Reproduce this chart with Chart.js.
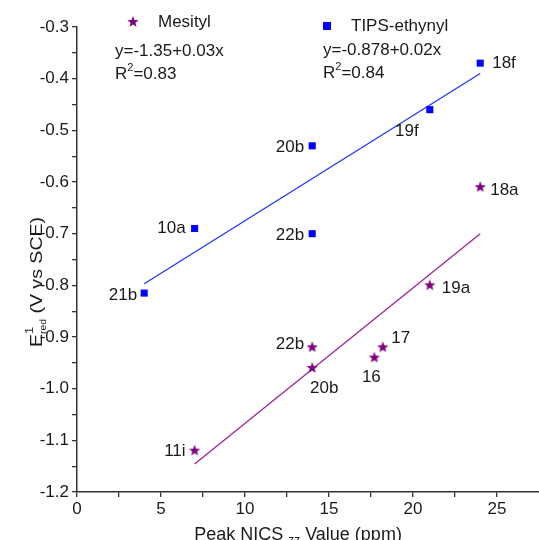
<!DOCTYPE html>
<html>
<head>
<meta charset="utf-8">
<script src="https://cdn.jsdelivr.net/npm/chart.js@4"></script>
<style>
  html, body { margin: 0; padding: 0; background: #fff; }
  #wrap { width: 539px; height: 540px; }
</style>
</head>
<body>
<div id="wrap"><canvas id="nicsChart"></canvas></div>
<script>
// TIPS-ethynyl series
const tipsNames = ['21b', '10a', '20b', '22b', '19f', '18f'];
const tipsX = [4, 7, 14, 14, 21, 24];
const tipsY = [-0.815, -0.69, -0.53, -0.70, -0.46, -0.37];

// Mesityl series
const mesNames = ['11i', '22b', '20b', '16', '17', '19a', '18a'];
const mesX = [7, 14, 14, 17.7, 18.2, 21, 24];
const mesY = [-1.12, -0.92, -0.96, -0.94, -0.92, -0.80, -0.61];

// fit lines (end points as drawn)
const tipsFitX = [4, 24];
const tipsFitY = [-0.797, -0.39];
const mesFitX = [7, 24];
const mesFitY = [-1.146, -0.70];

const xTicks = [0, 2.5, 5, 7.5, 10, 12.5, 15, 17.5, 20, 22.5, 25];
const yTicks = [-1.2, -1.15, -1.1, -1.05, -1.0, -0.95, -0.9, -0.85, -0.8, -0.75, -0.7,
                -0.65, -0.6, -0.55, -0.5, -0.45, -0.4, -0.35, -0.3];

const FONT = '"Liberation Sans", Arial, sans-serif';
const TXT = '#1a1a1a';
const PURPLE = '#800080';
const BLUE = '#0000ff';

// filled five point star for the Mesityl points
function makeStar(r, color) {
    const c = document.createElement('canvas');
    c.width = c.height = r * 2 + 2;
    const g = c.getContext('2d');
    g.fillStyle = color;
    g.beginPath();
    for (let i = 0; i < 10; i++) {
        const rad = i % 2 === 0 ? r : r * 0.42;
        const a = -Math.PI / 2 + i * Math.PI / 5;
        g.lineTo(r + 1 + rad * Math.cos(a), r + 1 + rad * Math.sin(a));
    }
    g.closePath();
    g.fill();
    return c;
}
const star = makeStar(6, PURPLE);

// where each label sits relative to its point [dx, dy, align]
const tipsPlace = [[-7, 2, 'right'], [-9, 0, 'right'], [-8, 1, 'right'], [-8, 2, 'right'], [-23, 22, 'center'], [12, 0, 'left']];
const mesPlace = [[-9, 1, 'right'], [-8, -3, 'right'], [12, 20, 'center'], [-3, 20, 'center'], [18, -9, 'center'], [12, 3, 'left'], [10, 3, 'left']];

const annotate = {
    id: 'annotate',
    afterDatasetsDraw(chart) {
        const ctx = chart.ctx;
        const xs = chart.scales.x, ys = chart.scales.y;
        ctx.save();
        ctx.fillStyle = TXT;
        ctx.font = '17px ' + FONT;
        ctx.textBaseline = 'middle';
        const put = (names, X, Y, place) => {
            names.forEach((n, i) => {
                const p = place[i];
                ctx.textAlign = p[2];
                ctx.fillText(n, xs.getPixelForValue(X[i]) + p[0], ys.getPixelForValue(Y[i]) + p[1]);
            });
        };
        put(tipsNames, tipsX, tipsY, tipsPlace);
        put(mesNames, mesX, mesY, mesPlace);

        // legend + fit equations
        ctx.textAlign = 'left';
        ctx.drawImage(star, 133 - 7, 22 - 7);
        ctx.fillText('Mesityl', 158, 22);
        ctx.fillStyle = BLUE;
        ctx.fillRect(323, 22, 8, 8);
        ctx.fillStyle = TXT;
        ctx.fillText('TIPS-ethynyl', 351, 26);

        const rsq = (x, y, val) => {
            ctx.font = '17px ' + FONT;
            ctx.fillText('R', x, y);
            let w = ctx.measureText('R').width;
            ctx.font = '11px ' + FONT;
            ctx.fillText('2', x + w, y - 6);
            w += ctx.measureText('2').width;
            ctx.font = '17px ' + FONT;
            ctx.fillText('=' + val, x + w, y);
        };
        ctx.fillText('y=-1.35+0.03x', 115, 51);
        rsq(115, 74, '0.83');
        ctx.fillText('y=-0.878+0.02x', 323, 50);
        rsq(323, 73, '0.84');

        // y axis title: E^1_red (V vs SCE)
        ctx.save();
        ctx.translate(42, 282);
        ctx.rotate(-Math.PI / 2);
        ctx.scale(1.15, 1);
        ctx.textBaseline = 'alphabetic';
        const parts = [['E', 17, 0, true], ['1', 11, -9, false], ['red', 9, 4, true], [' (V vs SCE)', 17, 0, true]];
        let total = 0;
        parts.forEach(p => { ctx.font = p[1] + 'px ' + FONT; if (p[3]) total += ctx.measureText(p[0]).width; });
        let cx = -total / 2;
        parts.forEach(p => {
            ctx.font = p[1] + 'px ' + FONT;
            ctx.fillText(p[0], cx, p[2]);
            if (p[3]) cx += ctx.measureText(p[0]).width;
        });
        ctx.restore();

        // x axis title: Peak NICS_zz Value (ppm)
        ctx.textBaseline = 'alphabetic';
        const xp = [['Peak NICS ', 18, 0], ['zz', 12, 4], [' Value (ppm)', 18, 0]];
        let tw = 0;
        xp.forEach(p => { ctx.font = p[1] + 'px ' + FONT; tw += ctx.measureText(p[0]).width; });
        let px = 298 - tw / 2;
        xp.forEach(p => {
            ctx.font = p[1] + 'px ' + FONT;
            ctx.fillText(p[0], px, 540 + p[2]);
            px += ctx.measureText(p[0]).width;
        });
        ctx.restore();
    }
};

const toPts = (X, Y) => X.map((x, i) => ({ x: x, y: Y[i] }));

new Chart(document.getElementById('nicsChart'), {
    type: 'scatter',
    data: {
        datasets: [
            {
                label: 'Mesityl',
                data: toPts(mesX, mesY),
                pointStyle: star,
                pointRadius: 6,
                order: 1
            },
            {
                label: 'TIPS-ethynyl',
                data: toPts(tipsX, tipsY),
                pointStyle: 'rect',
                pointRadius: 5,
                backgroundColor: BLUE,
                borderColor: BLUE,
                borderWidth: 0,
                order: 1
            },
            {
                label: 'tips fit',
                type: 'line',
                data: toPts(tipsFitX, tipsFitY),
                borderColor: '#2233ff',
                borderWidth: 1.3,
                pointRadius: 0,
                order: 2
            },
            {
                label: 'mes fit',
                type: 'line',
                data: toPts(mesFitX, mesFitY),
                borderColor: '#a020a0',
                borderWidth: 1.3,
                pointRadius: 0,
                order: 2
            }
        ]
    },
    options: {
        responsive: true,
        maintainAspectRatio: false,
        animation: false,
        layout: { autoPadding: false, padding: { top: 27, right: 0, left: 0, bottom: 0 } },
        plugins: {
            legend: { display: false },
            tooltip: { enabled: false }
        },
        scales: {
            x: {
                type: 'linear',
                min: 0,
                max: 27.5,
                afterBuildTicks: s => { s.ticks = xTicks.map(v => ({ value: v })); },
                afterFit: s => { s.height = 48; s.paddingRight = 0; },
                grid: { drawOnChartArea: false, tickLength: 5, color: '#333', lineWidth: 1.3 },
                border: { color: '#333', width: 1.5 },
                ticks: {
                    color: TXT,
                    font: { family: FONT, size: 17 },
                    padding: 2,
                    maxRotation: 0,
                    autoSkip: false,
                    callback: v => (v % 5 === 0 ? String(v) : '')
                }
            },
            y: {
                min: -1.2,
                max: -0.3,
                afterBuildTicks: s => { s.ticks = yTicks.map(v => ({ value: v })); },
                afterFit: s => { s.width = 77; },
                grid: { drawOnChartArea: false, tickLength: 5, color: '#333', lineWidth: 1.3 },
                border: { color: '#333', width: 1.5 },
                ticks: {
                    color: TXT,
                    font: { family: FONT, size: 17 },
                    padding: 3,
                    autoSkip: false,
                    callback: v => (Math.abs(Math.round(v * 10) - v * 10) < 1e-6 ? v.toFixed(1) : '')
                }
            }
        }
    },
    plugins: [annotate]
});
</script>
</body>
</html>
